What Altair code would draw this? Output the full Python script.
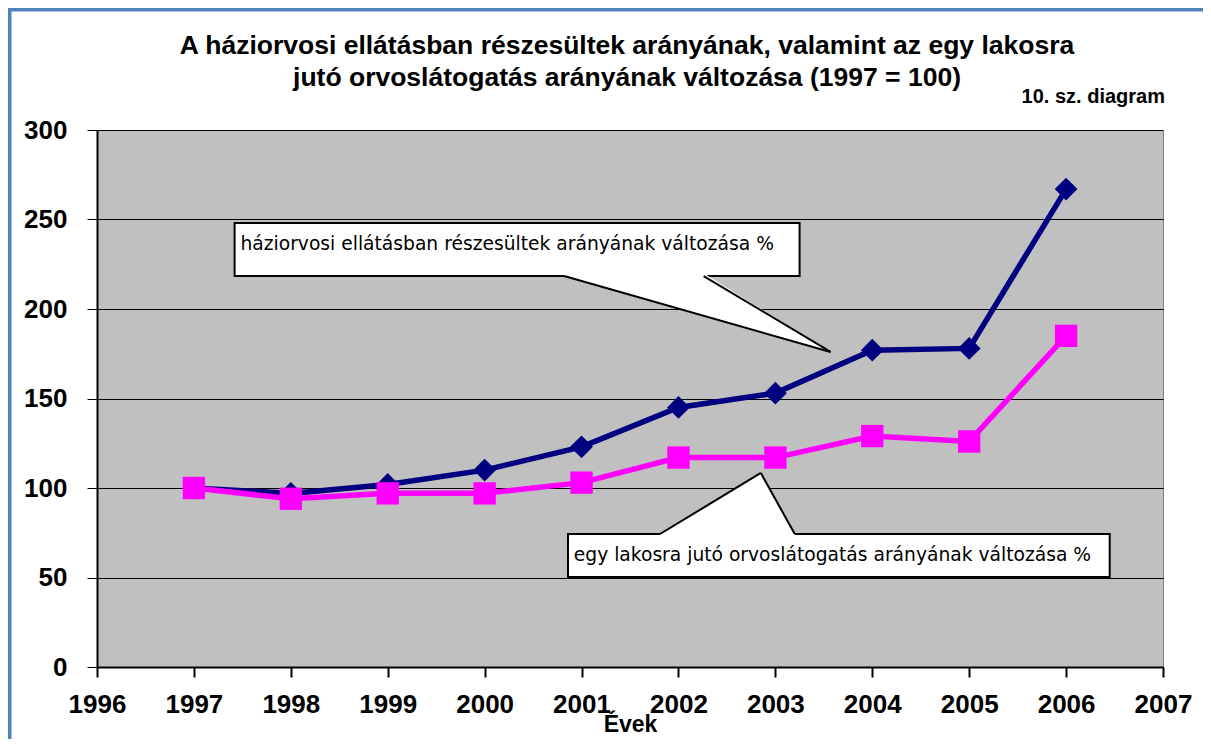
import altair as alt
import pandas as pd

# ---- data ----
years = [1997, 1998, 1999, 2000, 2001, 2002, 2003, 2004, 2005, 2006]
haziorvosi = [100, 97, 102, 110, 123, 145, 153, 177, 178, 267]
latogatas = [100, 94, 97, 97, 103, 117, 117, 129, 126, 185]
x_ticks = list(range(1996, 2008))
y_ticks = [0, 50, 100, 150, 200, 250, 300]

title_lines = ["A háziorvosi ellátásban részesültek arányának, valamint az egy lakosra",
               "jutó orvoslátogatás arányának változása (1997 = 100)"]
note_text = "10. sz. diagram"
label1 = "háziorvosi ellátásban részesültek arányának változása %"
label2 = "egy lakosra jutó orvoslátogatás arányának változása %"

# callout geometry (in data units: year, value)
box1 = dict(x=1997.42, x2=2003.25, y=248.0, y2=218.4)
ptr1 = dict(ax=2000.82, bx=2002.26, base=218.4, tx=2003.57, ty=176.0)
box2 = dict(x=2000.86, x2=2006.45, y=74.3, y2=50.3)
ptr2 = dict(ax=2001.81, bx=2003.20, base=74.3, tx=2002.85, ty=108.4)

FONT = "Liberation Sans"
NOTE_FONT = "DejaVu Sans"
W, H = 1066, 537

df = pd.DataFrame({
    "year": years * 2,
    "value": haziorvosi + latogatas,
    "series": ["h"] * len(years) + ["l"] * len(years),
})

xs = alt.Scale(domain=[1996, 2007], nice=False, zero=False)
ys = alt.Scale(domain=[0, 300], nice=False)

x_enc = alt.X("year:Q", scale=xs, axis=alt.Axis(
    values=x_ticks, format="d", title="Évek", titleFontSize=23, titleFontWeight="bold",
    titleFont=FONT, titlePadding=-4, labelFont=FONT, labelFontSize=26, labelFontWeight="bold",
    labelColor="black", labelPadding=14, tickColor="black", tickSize=10, tickWidth=2,
    domainColor="black", domainWidth=2, grid=False, labelFlush=False))
y_enc = alt.Y("value:Q", scale=ys, axis=alt.Axis(
    values=y_ticks, title=None, labelFont=FONT, labelFontSize=26, labelFontWeight="bold",
    labelColor="black", labelPadding=20, tickColor="black", tickSize=10, tickWidth=1,
    domainColor="black", domainWidth=2, grid=True, gridColor="black", gridWidth=1,
    labelFlush=False))

base = alt.Chart(df)

line_h = base.transform_filter(alt.datum.series == "h").mark_line(
    color="#000080", strokeWidth=5.5).encode(x=x_enc, y=y_enc)
pts_h = base.transform_filter(alt.datum.series == "h").mark_point(
    shape="diamond", filled=True, size=520, color="#000080", opacity=1).encode(x="year:Q", y="value:Q")
line_l = base.transform_filter(alt.datum.series == "l").mark_line(
    color="#FF00FF", strokeWidth=5.5).encode(x="year:Q", y="value:Q")
pts_l = base.transform_filter(alt.datum.series == "l").mark_point(
    shape="square", filled=True, size=500, color="#FF00FF", opacity=1).encode(x="year:Q", y="value:Q")

# callouts
def callout(box, ptr, text, pointer_up, fsize):
    bdf = pd.DataFrame([box])
    rect = alt.Chart(bdf).mark_rect(fill="white", stroke="black", strokeWidth=2).encode(
        x="x:Q", x2="x2:Q", y="y:Q", y2="y2:Q")
    ov = 1.6
    ax, bx, b, tx, ty = ptr["ax"], ptr["bx"], ptr["base"], ptr["tx"], ptr["ty"]
    if not pointer_up:
        low_b = b + (ty - b) * (bx - ax) / (tx - ax)
        tri = pd.DataFrame({"x": [ax, bx, tx], "y": [b + ov, b + ov, ty], "y2": [b, low_b, ty]})
    else:
        tri = pd.DataFrame({"x": [ax, tx, bx], "y": [b, ty, b], "y2": [b - ov, b - ov, b - ov]})
    area = alt.Chart(tri).mark_area(fill="white", opacity=1, interpolate="linear").encode(
        x="x:Q", y="y:Q", y2="y2:Q")
    edges = pd.DataFrame({"x": [ax, bx], "y": [b, b], "x2": [tx, tx], "y2": [ty, ty]})
    rules = alt.Chart(edges).mark_rule(color="black", strokeWidth=2).encode(
        x="x:Q", y="y:Q", x2="x2:Q", y2="y2:Q")
    tdf = pd.DataFrame({"x": [box["x"] + 0.06],
                        "y": [(box["y"] + box["y2"]) / 2 + (3 if not pointer_up else 0)],
                        "t": [text]})
    txt = alt.Chart(tdf).mark_text(align="left", baseline="middle", font=NOTE_FONT, fontSize=fsize,
                                   color="black").encode(x="x:Q", y="y:Q", text="t:N")
    return [rect, area, rules, txt]

c1 = callout(box1, ptr1, label1, False, 18.7)
c2 = callout(box2, ptr2, label2, True, 18.7)

title1 = alt.Chart(pd.DataFrame({"t": [title_lines[0]]})).mark_text(
    align="center", baseline="middle", font=FONT, fontSize=26.5, fontWeight="bold", color="black"
).encode(x=alt.value(W / 2 - 3), y=alt.value(-84), text="t:N")
title2 = alt.Chart(pd.DataFrame({"t": [title_lines[1]]})).mark_text(
    align="center", baseline="middle", font=FONT, fontSize=26.5, fontWeight="bold", color="black"
).encode(x=alt.value(W / 2 - 3), y=alt.value(-52), text="t:N")

note = alt.Chart(pd.DataFrame({"t": [note_text]})).mark_text(
    align="right", baseline="middle", font=FONT, fontSize=20, fontWeight="bold", color="black"
).encode(x=alt.value(W + 2), y=alt.value(-33), text="t:N")

frame_top = alt.Chart(pd.DataFrame({"a": [0]})).mark_rule(color="#4F81BD", strokeWidth=4).encode(
    x=alt.value(-89), x2=alt.value(W + 40), y=alt.value(-120.5))
frame_left = alt.Chart(pd.DataFrame({"a": [0]})).mark_rule(color="#4F81BD", strokeWidth=4).encode(
    x=alt.value(-87.5), y=alt.value(-122), y2=alt.value(H + 72))

chart = alt.layer(
    line_h, pts_h, line_l, pts_l, *c1, *c2, title1, title2, note, frame_top, frame_left
).properties(
    width=W, height=H,
    padding={"left": 89, "top": 122, "right": 40, "bottom": 72},
    autosize=alt.AutoSizeParams(type="none"),
    background="white",
).configure_view(fill="#C0C0C0", stroke="#808080", strokeWidth=1)

chart.save("out.html", embed_options={"renderer": "svg", "actions": False})
